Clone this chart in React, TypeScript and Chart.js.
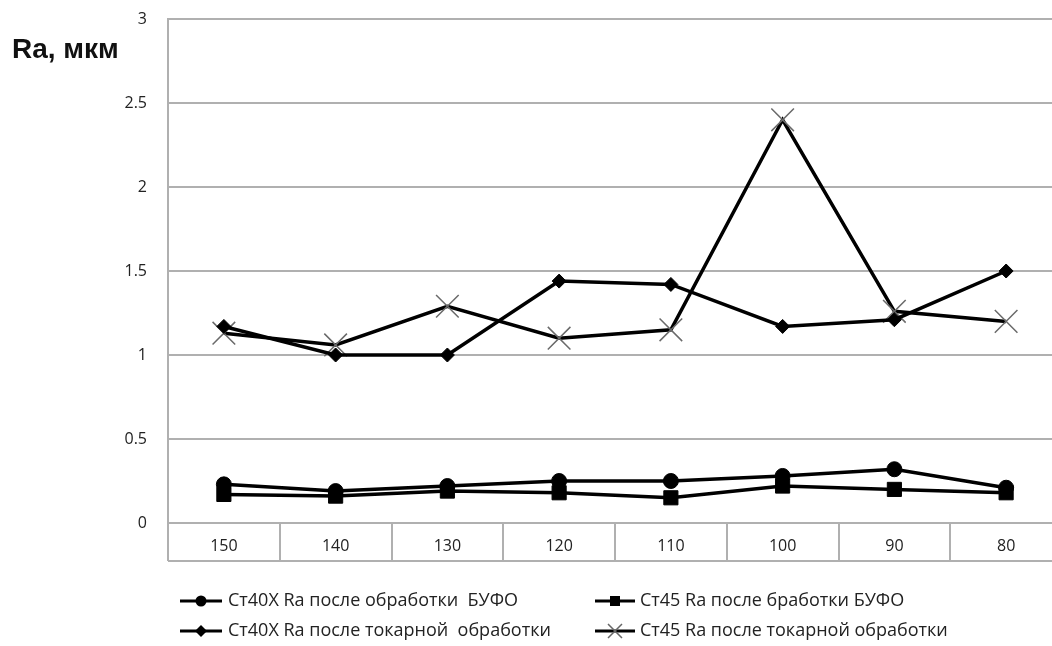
import React, { useEffect, useRef } from "react";
import { Chart, registerables } from "chart.js";

Chart.register(...registerables);

// Cutting speed categories along the bottom axis
const speeds = ["150", "140", "130", "120", "110", "100", "90", "80"];

// Surface roughness Ra, µm
const st40xBufo = [0.23, 0.19, 0.22, 0.25, 0.25, 0.28, 0.32, 0.21];
const st45Bufo = [0.17, 0.16, 0.19, 0.18, 0.15, 0.22, 0.2, 0.18];
const st40xTurning = [1.17, 1.0, 1.0, 1.44, 1.42, 1.17, 1.21, 1.5];
const st45Turning = [1.13, 1.06, 1.29, 1.1, 1.15, 2.4, 1.26, 1.2];

const seriesNames = [
  "Ст40Х Ra после обработки  БУФО",
  "Ст45 Ra после бработки БУФО",
  "Ст40Х Ra после токарной  обработки",
  "Ст45 Ra после токарной обработки",
];

const yAxisTitle = "Ra, мкм";

const GRID = "#b0b0b0";
const TEXT = "#222";
const FONT = "'Open Sans', 'DejaVu Sans', sans-serif";

function drawMarker(ctx: CanvasRenderingContext2D, style: string, x: number, y: number) {
  ctx.save();
  ctx.fillStyle = "#000";
  ctx.strokeStyle = "#000";
  ctx.beginPath();
  if (style === "circle") {
    ctx.arc(x, y, 5.5, 0, Math.PI * 2);
    ctx.fill();
  } else if (style === "rect") {
    ctx.rect(x - 5, y - 5, 10, 10);
    ctx.fill();
  } else if (style === "rectRot") {
    ctx.moveTo(x - 6, y);
    ctx.lineTo(x, y - 6);
    ctx.lineTo(x + 6, y);
    ctx.lineTo(x, y + 6);
    ctx.closePath();
    ctx.fill();
  } else if (style === "crossRot") {
    ctx.strokeStyle = "#666";
    ctx.lineWidth = 1.5;
    ctx.moveTo(x - 7, y - 7);
    ctx.lineTo(x + 7, y + 7);
    ctx.moveTo(x + 7, y - 7);
    ctx.lineTo(x - 7, y + 7);
    ctx.stroke();
  }
  ctx.restore();
}

// Draws the boxed category cells, the axis caption and the two-column legend
const decorPlugin = {
  id: "decor",
  afterDraw(chart: any) {
    const ctx: CanvasRenderingContext2D = chart.ctx;
    const xs = chart.scales.x;
    const area = chart.chartArea;
    const n = speeds.length;
    const top = area.bottom;
    const bottom = xs.bottom;

    ctx.save();
    ctx.strokeStyle = GRID;
    ctx.lineWidth = 2;
    ctx.beginPath();
    for (let i = 0; i <= n; i++) {
      const x = Math.round(xs.getPixelForValue(i - 0.5));
      ctx.moveTo(x, top);
      ctx.lineTo(x, bottom);
    }
    ctx.moveTo(area.left, bottom);
    ctx.lineTo(area.right, bottom);
    ctx.stroke();

    // axis caption
    ctx.fillStyle = "#111";
    ctx.font = `bold 28px 'Liberation Sans', Arial, sans-serif`;
    ctx.textAlign = "left";
    ctx.textBaseline = "alphabetic";
    ctx.fillText(yAxisTitle, 12, 58);

    // legend
    const cols = [
      { x0: 180, x1: 222, tx: 228 },
      { x0: 595, x1: 635, tx: 640 },
    ];
    const rows = [601, 631];
    ctx.font = `18px ${FONT}`;
    ctx.textBaseline = "middle";
    chart.data.datasets.forEach((ds: any, i: number) => {
      const c = cols[i % 2];
      const y = rows[Math.floor(i / 2)];
      ctx.strokeStyle = "#000";
      ctx.lineWidth = 3;
      ctx.beginPath();
      ctx.moveTo(c.x0, y);
      ctx.lineTo(c.x1, y);
      ctx.stroke();
      drawMarker(ctx, ds.pointStyle, (c.x0 + c.x1) / 2, y);
      ctx.fillStyle = TEXT;
      ctx.fillText(ds.label, c.tx, y);
    });
    ctx.restore();
  },
};

export default function App() {
  const canvasRef = useRef<HTMLCanvasElement | null>(null);

  useEffect(() => {
    if (!canvasRef.current) return;
    const base = {
      borderColor: "#000",
      borderWidth: 3.5,
      tension: 0,
      fill: false,
      pointBackgroundColor: "#000",
      pointBorderColor: "#000",
    };
    const chart = new Chart(canvasRef.current, {
      type: "line",
      data: {
        labels: speeds,
        datasets: [
          { ...base, label: seriesNames[0], data: st40xBufo, pointStyle: "circle", pointRadius: 7.5, pointBorderWidth: 1 },
          { ...base, label: seriesNames[1], data: st45Bufo, pointStyle: "rect", pointRadius: 10, pointBorderWidth: 1 },
          { ...base, label: seriesNames[2], data: st40xTurning, pointStyle: "rectRot", pointRadius: 7, pointBorderWidth: 1 },
          {
            ...base,
            label: seriesNames[3],
            data: st45Turning,
            pointStyle: "crossRot",
            pointRadius: 16,
            pointBorderWidth: 1.5,
            pointBorderColor: "#6a6a6a",
          },
        ],
      },
      options: {
        animation: false,
        responsive: false,
        layout: { autoPadding: false, padding: { top: 19, left: 0, right: 12, bottom: 85 } },
        plugins: {
          legend: { display: false },
          tooltip: { enabled: false },
        },
        scales: {
          x: {
            offset: true,
            grid: { display: false },
            border: { display: false },
            ticks: { color: TEXT, font: { family: FONT, size: 16 }, padding: 6 },
            afterFit: (s: any) => {
              s.height = 38;
            },
          },
          y: {
            min: 0,
            max: 3,
            ticks: {
              stepSize: 0.5,
              color: TEXT,
              font: { family: FONT, size: 16 },
              padding: 21,
              callback: (v: any) => String(Number(v)),
            },
            grid: { color: GRID, lineWidth: 2, drawTicks: false },
            border: { color: GRID, width: 2 },
            afterFit: (s: any) => {
              s.width = 168;
              s.paddingTop = 0;
              s.paddingBottom = 0;
            },
          },
        },
      },
      plugins: [decorPlugin],
    });
    return () => chart.destroy();
  }, []);

  return (
    <div style={{ position: "fixed", left: 0, top: 0, width: 1052, height: 646, overflow: "hidden", background: "#fff" }}>
      <canvas ref={canvasRef} width={1074} height={646} style={{ width: 1074, height: 646, display: "block" }} />
    </div>
  );
}
